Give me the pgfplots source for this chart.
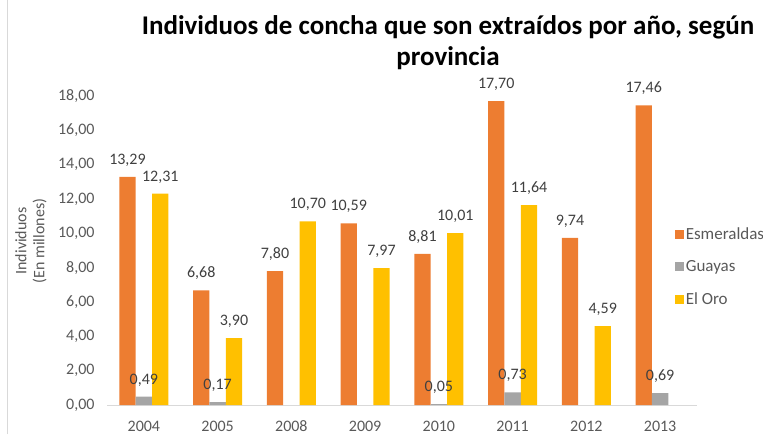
\documentclass[border=0pt]{standalone}
\usepackage{pgfplots}
\pgfplotsset{compat=1.18}
\usepackage{fontspec}
\setmainfont{Carlito}
\definecolor{cEsm}{HTML}{ED7D31}
\definecolor{cGua}{HTML}{A5A5A5}
\definecolor{cOro}{HTML}{FFC000}
\definecolor{cTxt}{HTML}{595959}
\definecolor{cLbl}{HTML}{404040}
\definecolor{cAx}{HTML}{D9D9D9}
\begin{document}
\begin{tikzpicture}[x=1pt,y=1pt]
\path[use as bounding box] (0,0) rectangle (763,434);
\draw[cAx, line width=1pt] (7.5,0) -- (7.5,434);
\begin{axis}[
  at={(107pt,29pt)}, anchor=south west,
  scale only axis, width=590pt, height=308.9pt,
  xmin=-0.5, xmax=7.5, ymin=0, ymax=18,
  ybar=0pt, bar width=16.4pt,
  axis y line*=left, axis x line*=bottom,
  y axis line style={draw=none},
  x axis line style={cAx, line width=1pt},
  xtick={0,...,7},
  xticklabels={2004,2005,2008,2009,2010,2011,2012,2013},
  ytick={0,2,...,18},
  tick style={draw=none},
  major tick length=0pt,
  ticklabel style={font=\fontsize{16}{19}\selectfont, text=cTxt},
  yticklabel style={xshift=-9pt},
  xticklabel style={yshift=-12pt, text height=11pt, text depth=0pt},
  /pgf/number format/.cd, fixed, fixed zerofill, precision=2, use comma, 1000 sep={}, assume math mode=true,
  /pgfplots/.cd,
  nodes near coords,
  nodes near coords style={font=\fontsize{16}{19}\selectfont, text=cLbl, yshift=7pt,
    /pgf/number format/.cd, fixed, fixed zerofill, precision=2, use comma, assume math mode=true},
  legend style={at={(0.962,0.447)}, anchor=west, draw=none, fill=none,
    font=\fontsize{17}{20}\selectfont, text=cTxt, row sep=16pt, inner sep=0pt},
  legend cell align=left,
  legend image code/.code={\fill[#1] (0pt,-4.5pt) rectangle (9pt,4.5pt);},
  clip=false,
]
\addplot[fill=cEsm, draw=none] coordinates {(0,13.29) (1,6.68) (2,7.80) (3,10.59) (4,8.81) (5,17.70) (6,9.74) (7,17.46)};
\addplot[fill=cGua, draw=none] coordinates {(0,0.49) (1,0.17) (2,nan) (3,nan) (4,0.05) (5,0.73) (6,nan) (7,0.69)};
\addplot[fill=cOro, draw=none] coordinates {(0,12.31) (1,3.90) (2,10.70) (3,7.97) (4,10.01) (5,11.64) (6,4.59) (7,nan)};
\legend{Esmeraldas,Guayas,El Oro}
\end{axis}
\node[rotate=90, align=center, font=\fontsize{16}{18}\selectfont, text=cTxt] at (31,193) {Individuos\\(En millones)};
\node[font=\fontsize{27}{31}\selectfont\bfseries, align=center] at (448,391) {Individuos de concha que son extraídos por año, según\\provincia};
\end{tikzpicture}
\end{document}
